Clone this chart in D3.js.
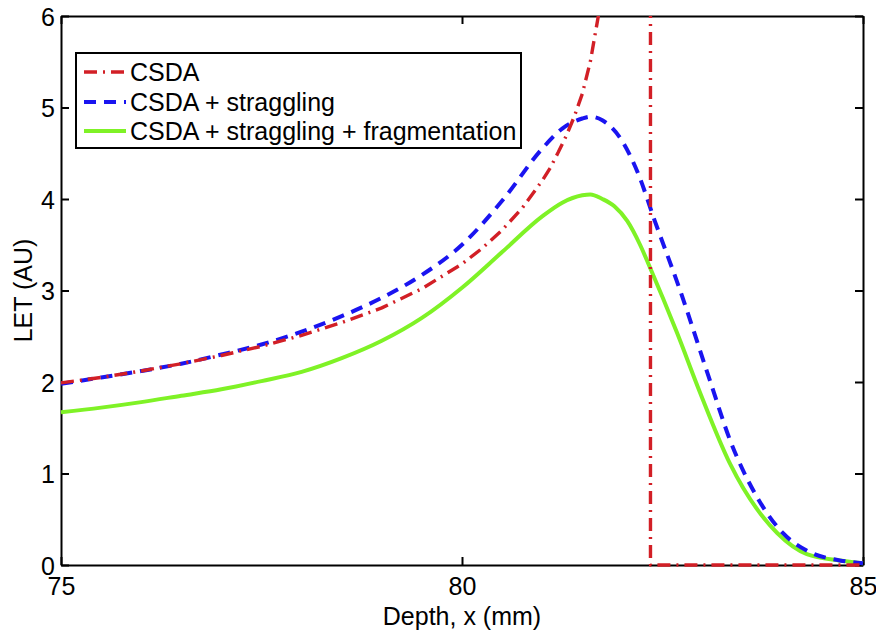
<!DOCTYPE html>
<html>
<head>
<meta charset="utf-8">
<script src="https://cdn.jsdelivr.net/npm/d3@7"></script>
<style>
  html, body { margin: 0; padding: 0; background: #fff; }
  svg text { font-family: "Liberation Sans", Arial, sans-serif; fill: #000; }
</style>
</head>
<body>
<svg id="chart" width="876" height="634"></svg>
<script>
// ---- data ----
const xTicks = [75, 80, 85];
const yTicks = [0, 1, 2, 3, 4, 5, 6];
const seriesNames = ["CSDA", "CSDA + straggling", "CSDA + straggling + fragmentation"];

const csdaX = [75, 75.5, 76, 76.5, 77, 77.5, 78, 78.5, 79, 79.5, 80, 80.25, 80.5, 80.75, 81, 81.1, 81.2, 81.3, 81.4, 81.5, 81.6, 81.7, 81.8, 82.0, 82.2, 82.35, 82.35, 85];
const csdaY = [1.99, 2.05, 2.12, 2.20, 2.29, 2.39, 2.51, 2.65, 2.81, 3.02, 3.29, 3.46, 3.66, 3.9, 4.2, 4.34, 4.51, 4.69, 4.9, 5.15, 5.5, 6.0, 6.5, 7.8, 10, 20, 0, 0];

const stragX = [75, 75.5, 76, 76.5, 77, 77.5, 78, 78.5, 79, 79.5, 80, 80.5, 81, 81.25, 81.5, 81.6, 81.75, 82.0, 82.2, 82.4, 82.72, 83.09, 83.34, 83.68, 84.0, 84.34, 84.71, 85];
const stragY = [1.98, 2.05, 2.12, 2.20, 2.30, 2.41, 2.55, 2.72, 2.92, 3.17, 3.5, 3.98, 4.55, 4.77, 4.88, 4.9, 4.86, 4.63, 4.27, 3.77, 3.0, 2.02, 1.37, 0.74, 0.35, 0.14, 0.05, 0.02];

const fragX = [75, 75.5, 76, 76.5, 77, 77.5, 78, 78.5, 79, 79.5, 80, 80.5, 81, 81.25, 81.5, 81.6, 81.75, 81.9, 82.06, 82.22, 82.34, 82.68, 82.97, 83.34, 83.93, 84.3, 84.71, 85];
const fragY = [1.67, 1.72, 1.78, 1.85, 1.92, 2.01, 2.11, 2.26, 2.45, 2.70, 3.03, 3.42, 3.81, 3.96, 4.04, 4.05, 4.0, 3.92, 3.76, 3.5, 3.26, 2.54, 1.88, 1.11, 0.35, 0.12, 0.05, 0.02];

const colors = ["#d21f26", "#1a14f0", "#7ff226"];
const dashes = ["13,6,2,6", "12,8", null];
const widths = [3.4, 4, 4];

// ---- layout ----
const svg = d3.select("#chart");
const mL = 61, mR = 863, mT = 16, mB = 565;
const x = d3.scaleLinear().domain([75, 85]).range([mL, mR]);
const y = d3.scaleLinear().domain([0, 6]).range([mB, mT]);

svg.append("defs").append("clipPath").attr("id", "clip")
  .append("rect").attr("x", mL - 3).attr("y", mT).attr("width", mR - mL + 6).attr("height", mB - mT + 3);

// axes with inward ticks
const fs = 25;
const axB = svg.append("g").attr("transform", `translate(0,${mB})`)
  .call(d3.axisBottom(x).tickValues(xTicks).tickFormat(d3.format("d")).tickSize(-8).tickPadding(12).tickSizeOuter(0));
const axT = svg.append("g").attr("transform", `translate(0,${mT})`)
  .call(d3.axisTop(x).tickValues(xTicks).tickSize(-8).tickFormat("").tickSizeOuter(0));
const axL = svg.append("g").attr("transform", `translate(${mL},0)`)
  .call(d3.axisLeft(y).tickValues(yTicks).tickFormat(d3.format("d")).tickSize(-8).tickPadding(6).tickSizeOuter(0));
const axR = svg.append("g").attr("transform", `translate(${mR},0)`)
  .call(d3.axisRight(y).tickValues(yTicks).tickSize(-8).tickFormat("").tickSizeOuter(0));
[axB, axT, axL, axR].forEach(g => {
  g.selectAll("path.domain").attr("stroke", "#000").attr("stroke-width", 2);
  g.selectAll(".tick line").attr("stroke", "#000").attr("stroke-width", 2);
  g.selectAll(".tick text").style("font-size", fs + "px").attr("fill", "#000");
});
axB.selectAll(".tick text").attr("dy", "0.71em");
axL.selectAll(".tick text").attr("dy", "0.36em");

// lines
const series = [
  csdaX.map((d, i) => [d, csdaY[i]]),
  stragX.map((d, i) => [d, stragY[i]]),
  fragX.map((d, i) => [d, fragY[i]])
];
const curves = [d3.curveLinear, d3.curveMonotoneX, d3.curveMonotoneX];
const lg = svg.append("g").attr("clip-path", "url(#clip)");
[2, 1, 0].forEach(i => {
  const line = d3.line().x(d => x(d[0])).y(d => y(d[1])).curve(curves[i]);
  lg.append("path").datum(series[i])
    .attr("d", line)
    .attr("fill", "none")
    .attr("stroke", colors[i])
    .attr("stroke-width", widths[i])
    .attr("stroke-dasharray", dashes[i])
    .attr("stroke-linejoin", "round");
});

// axis labels
svg.append("text").attr("x", (mL + mR) / 2).attr("y", 625)
  .attr("text-anchor", "middle").style("font-size", fs + "px").text("Depth, x (mm)");
svg.append("text").attr("transform", `translate(32,${(mT + mB) / 2}) rotate(-90)`)
  .attr("text-anchor", "middle").style("font-size", fs + "px").text("LET (AU)");

// legend
const leg = svg.append("g");
leg.append("rect").attr("x", 76).attr("y", 53).attr("width", 445).attr("height", 95)
  .attr("fill", "#fff").attr("stroke", "#000").attr("stroke-width", 2);
const rowY = [72, 102, 131];
seriesNames.forEach((name, i) => {
  leg.append("line").attr("x1", 84).attr("x2", 126).attr("y1", rowY[i]).attr("y2", rowY[i])
    .attr("stroke", colors[i]).attr("stroke-width", widths[i])
    .attr("stroke-dasharray", dashes[i]);
  leg.append("text").attr("x", 130).attr("y", rowY[i]).attr("dy", "0.36em")
    .style("font-size", fs + "px").text(name);
});
</script>
</body>
</html>
